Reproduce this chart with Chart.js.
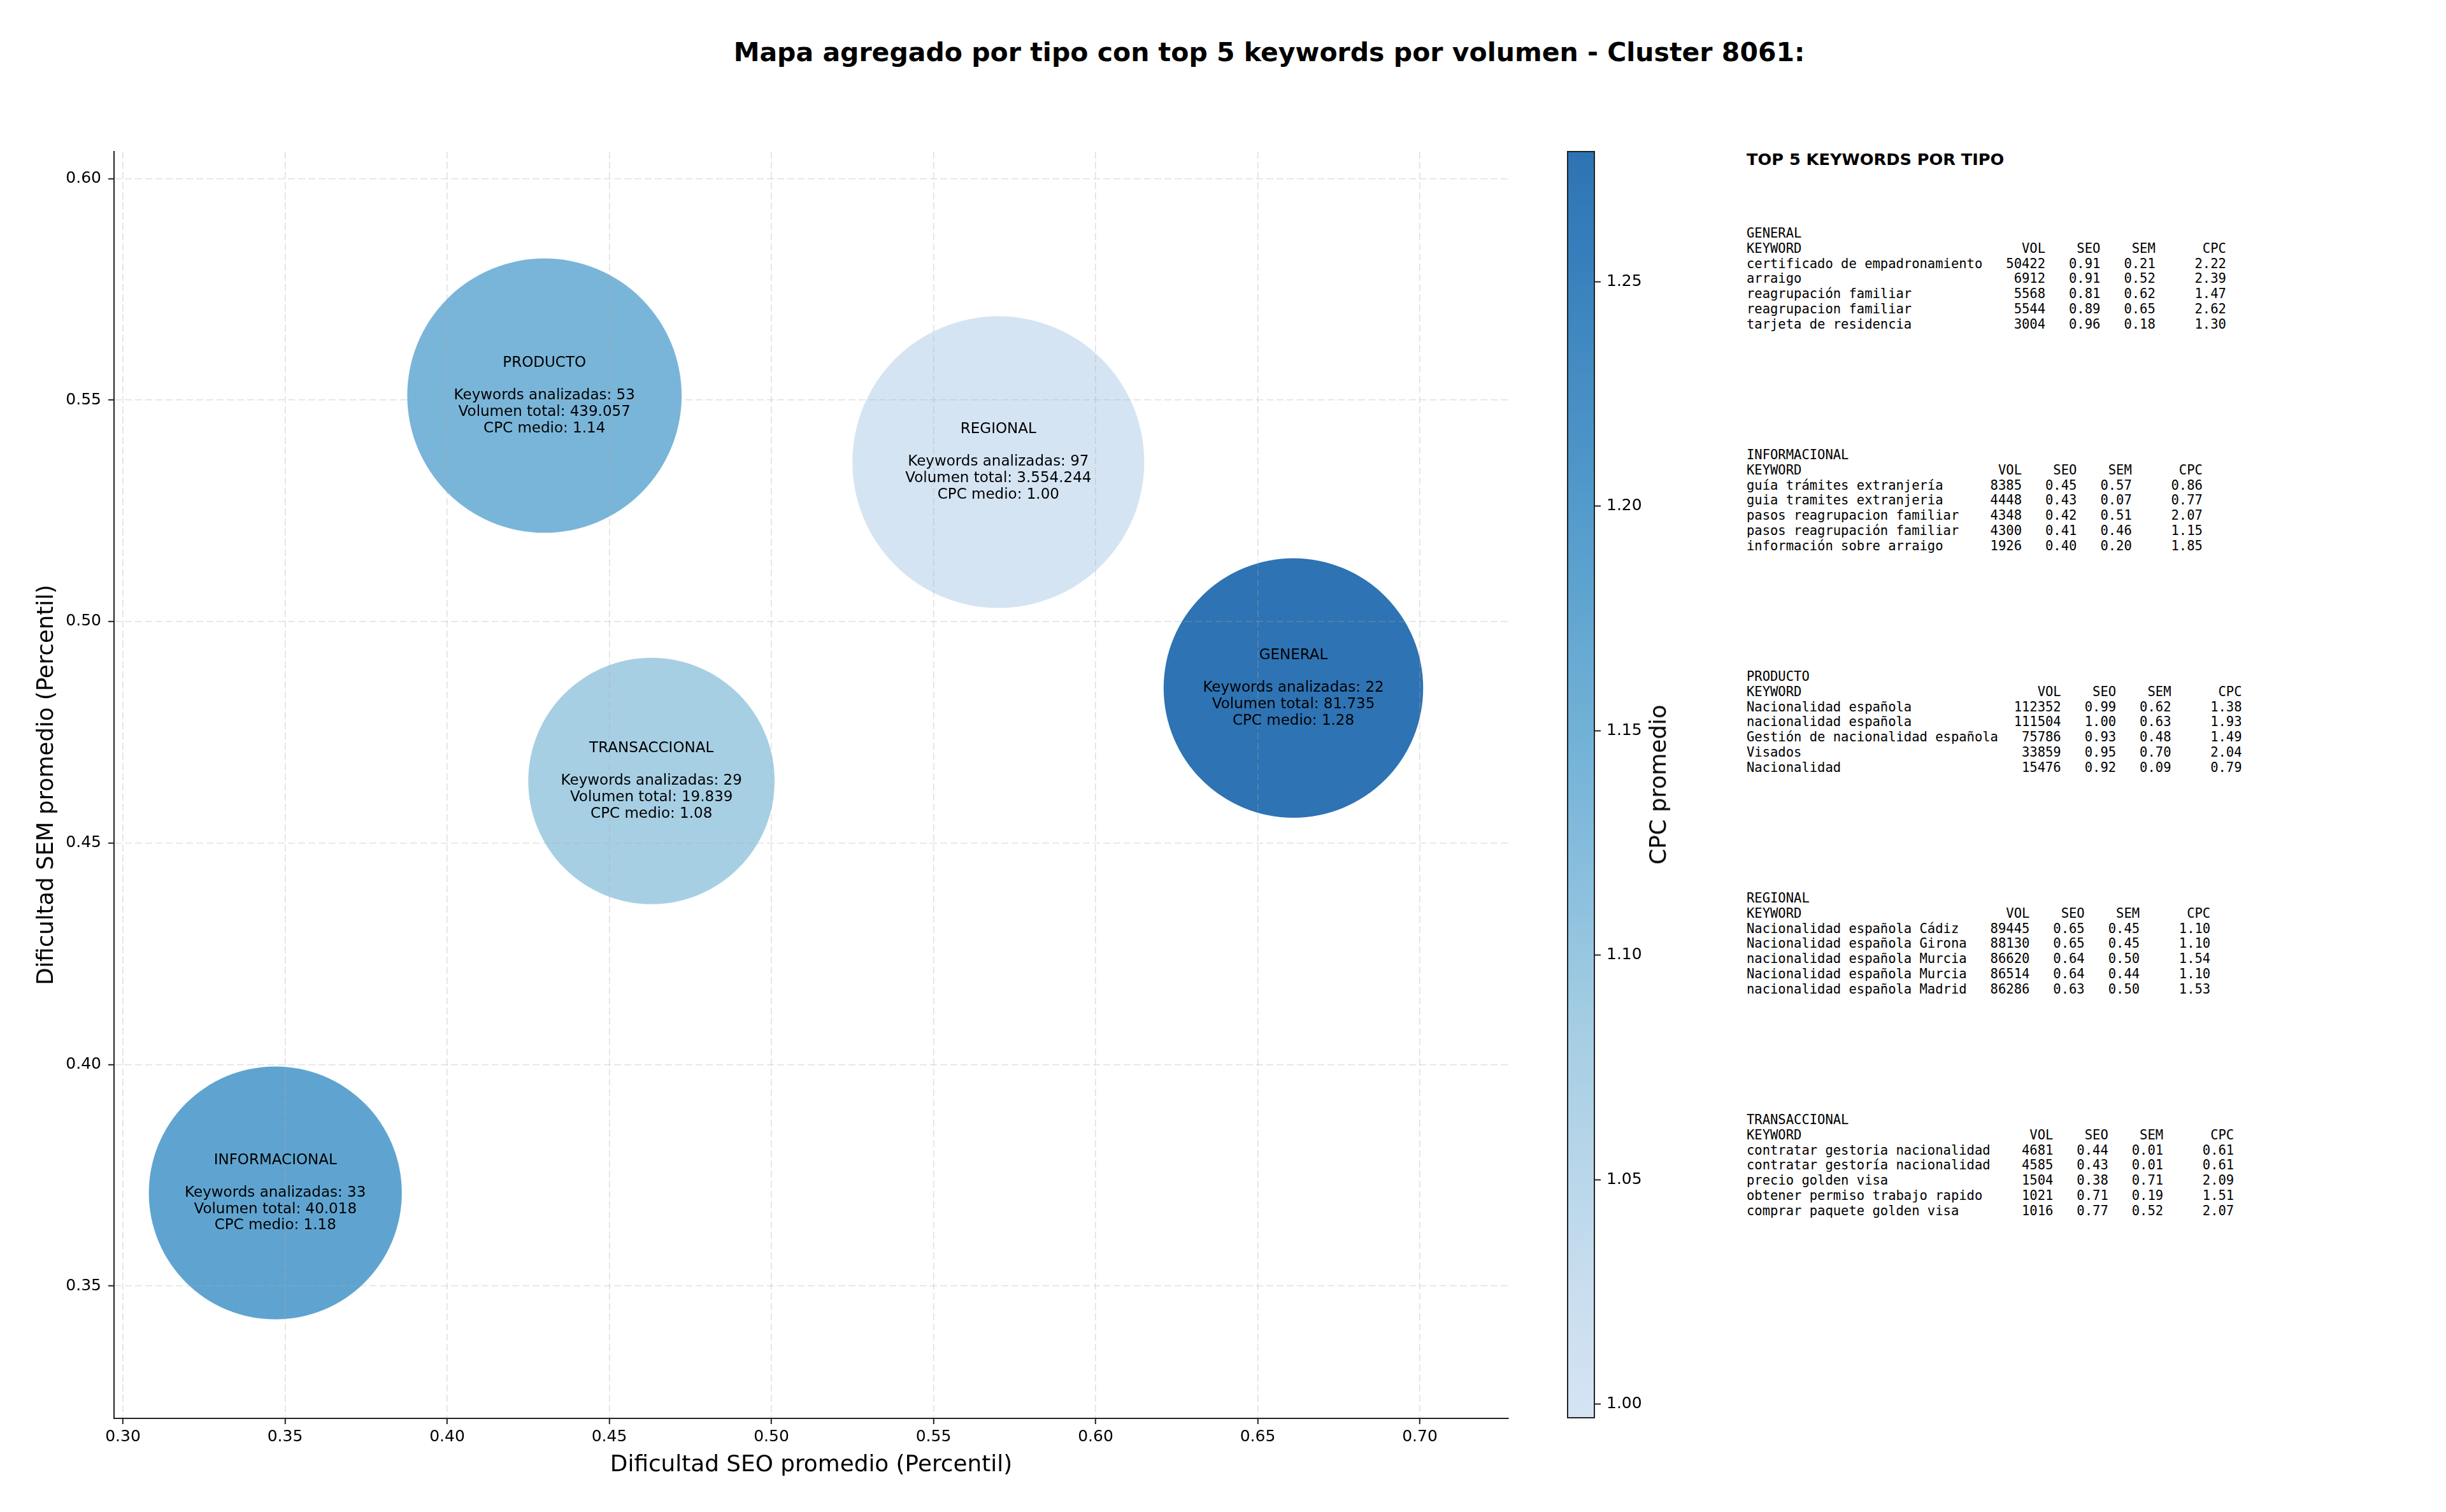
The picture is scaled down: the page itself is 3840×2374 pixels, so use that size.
<!DOCTYPE html>
<html>
<head>
<meta charset="utf-8">
<script src="https://cdn.jsdelivr.net/npm/chart.js@4.4.1/dist/chart.umd.min.js"></script>
<style>
  html, body { margin: 0; padding: 0; background: #fff; }
  #page { position: relative; width: 3840px; height: 2374px; overflow: hidden; font-family: "DejaVu Sans", sans-serif; color: #000; }
  #title { position: absolute; left: 0; width: 3985px; top: 58px; line-height: 48px; text-align: center; font-weight: bold; font-size: 41px; white-space: nowrap; }
  #c-main { position: absolute; left: 0; top: 0; }
  #c-bar { position: absolute; left: 2400px; top: 0; }
  #cb-label { position: absolute; left: 2603px; top: 1232px; transform: translate(-50%, -50%) rotate(-90deg); font-size: 35.5px; line-height: 42px; white-space: nowrap; }
  #top-head { position: absolute; left: 2742px; top: 235px; font-weight: bold; font-size: 25.6px; line-height: 30px; white-space: nowrap; }
  .kw { position: absolute; left: 2742px; margin: 0; font-family: "DejaVu Sans Mono", monospace; font-size: 20.5px; line-height: 23.8px; }
</style>
</head>
<body>
<div id="page">
  <div id="title">Mapa agregado por tipo con top 5 keywords por volumen - Cluster 8061:</div>
  <canvas id="c-main" width="2440" height="2374" style="width:2440px;height:2374px"></canvas>
  <canvas id="c-bar" width="300" height="2374" style="width:300px;height:2374px"></canvas>
  <div id="cb-label">CPC promedio</div>
  <div id="top-head">TOP 5 KEYWORDS POR TIPO</div>
  <div id="kw-panel"></div>
</div>
<script>
// ── datos agregados por tipo ────────────────────────────────────────────────
const TIPOS = ['GENERAL', 'INFORMACIONAL', 'PRODUCTO', 'REGIONAL', 'TRANSACCIONAL'];
const SEO_MEDIO = [0.661, 0.347, 0.430, 0.570, 0.463];
const SEM_MEDIO = [0.485, 0.371, 0.551, 0.536, 0.464];
const KW_ANALIZADAS = [22, 33, 53, 97, 29];
const VOL_TOTAL = [81735, 40018, 439057, 3554244, 19839];
const CPC_MEDIO = [1.279, 1.18, 1.14, 0.997, 1.08];

const X_TICKS = [0.30, 0.35, 0.40, 0.45, 0.50, 0.55, 0.60, 0.65, 0.70];
const Y_TICKS = [0.35, 0.40, 0.45, 0.50, 0.55, 0.60];
const CB_TICKS = [1.00, 1.05, 1.10, 1.15, 1.20, 1.25];

// ── top 5 keywords: [keyword, vol, seo, sem, cpc] ───────────────────────────
const TOP_GENERAL = [
  ['certificado de empadronamiento', 50422, 0.91, 0.21, 2.22],
  ['arraigo', 6912, 0.91, 0.52, 2.39],
  ['reagrupación familiar', 5568, 0.81, 0.62, 1.47],
  ['reagrupacion familiar', 5544, 0.89, 0.65, 2.62],
  ['tarjeta de residencia', 3004, 0.96, 0.18, 1.30],
];
const TOP_INFORMACIONAL = [
  ['guía trámites extranjería', 8385, 0.45, 0.57, 0.86],
  ['guia tramites extranjeria', 4448, 0.43, 0.07, 0.77],
  ['pasos reagrupacion familiar', 4348, 0.42, 0.51, 2.07],
  ['pasos reagrupación familiar', 4300, 0.41, 0.46, 1.15],
  ['información sobre arraigo', 1926, 0.40, 0.20, 1.85],
];
const TOP_PRODUCTO = [
  ['Nacionalidad española', 112352, 0.99, 0.62, 1.38],
  ['nacionalidad española', 111504, 1.00, 0.63, 1.93],
  ['Gestión de nacionalidad española', 75786, 0.93, 0.48, 1.49],
  ['Visados', 33859, 0.95, 0.70, 2.04],
  ['Nacionalidad', 15476, 0.92, 0.09, 0.79],
];
const TOP_REGIONAL = [
  ['Nacionalidad española Cádiz', 89445, 0.65, 0.45, 1.10],
  ['Nacionalidad española Girona', 88130, 0.65, 0.45, 1.10],
  ['nacionalidad española Murcia', 86620, 0.64, 0.50, 1.54],
  ['Nacionalidad española Murcia', 86514, 0.64, 0.44, 1.10],
  ['nacionalidad española Madrid', 86286, 0.63, 0.50, 1.53],
];
const TOP_TRANSACCIONAL = [
  ['contratar gestoria nacionalidad', 4681, 0.44, 0.01, 0.61],
  ['contratar gestoría nacionalidad', 4585, 0.43, 0.01, 0.61],
  ['precio golden visa', 1504, 0.38, 0.71, 2.09],
  ['obtener permiso trabajo rapido', 1021, 0.71, 0.19, 1.51],
  ['comprar paquete golden visa', 1016, 0.77, 0.52, 2.07],
];
const TOP_GROUPS = [TOP_GENERAL, TOP_INFORMACIONAL, TOP_PRODUCTO, TOP_REGIONAL, TOP_TRANSACCIONAL];

// ── helpers ─────────────────────────────────────────────────────────────────
const FONT = '"DejaVu Sans", sans-serif';
const INK = '#222';
const BLUES = ['#f7fbff','#deebf7','#c6dbef','#9ecae1','#6baed6','#4292c6','#2171b5','#08519c','#08306b'];
const CPC_MIN = Math.min(...CPC_MEDIO), CPC_MAX = Math.max(...CPC_MEDIO);

function hexRgb(h) { return [1, 3, 5].map(i => parseInt(h.substr(i, 2), 16)); }
function blues(t, alpha) {
  const p = Math.max(0, Math.min(1, t)) * 8;
  const i = Math.min(7, Math.floor(p)), f = p - i;
  const a = hexRgb(BLUES[i]), b = hexRgb(BLUES[i + 1]);
  const c = a.map((v, k) => Math.round(v + (b[k] - v) * f));
  return 'rgba(' + c.join(',') + ',' + alpha + ')';
}
// mapa truncado (0.2 - 0.8 de Blues), alpha 0.9
function cpcColor(v) { return blues(0.2 + 0.6 * (v - CPC_MIN) / (CPC_MAX - CPC_MIN), 0.9); }
function bubbleRadius(vol) { return Math.sqrt(8681 + 6682 * Math.log10(vol)); }
function miles(n) { return String(n).replace(/\B(?=(\d{3})+(?!\d))/g, '.'); }
function fixedTicks(list) { return scale => { scale.ticks = list.map(v => ({ value: v })); }; }

// las burbujas no deben reservar margen extra en el layout
Chart.BubbleController.prototype.getMaxOverflow = () => 0;

// ── panel de keywords ───────────────────────────────────────────────────────
const panel = document.getElementById('kw-panel');
TOP_GROUPS.forEach((rows, g) => {
  const w = Math.max(...rows.map(r => r[0].length));
  const lines = [TIPOS[g],
    'KEYWORD'.padEnd(w) + 'VOL'.padStart(8) + 'SEO'.padStart(7) + 'SEM'.padStart(7) + 'CPC'.padStart(9)];
  rows.forEach(r => lines.push(r[0].padEnd(w) + String(r[1]).padStart(8) +
    r[2].toFixed(2).padStart(7) + r[3].toFixed(2).padStart(7) + r[4].toFixed(2).padStart(9)));
  const pre = document.createElement('pre');
  pre.className = 'kw';
  pre.style.top = (355 + g * 348) + 'px';
  pre.textContent = lines.join('\n');
  panel.appendChild(pre);
});

// ── gráfico principal ───────────────────────────────────────────────────────
const bubbleLabels = {
  id: 'bubbleLabels',
  afterDraw(chart) {
    const { ctx, scales: { x, y } } = chart;
    ctx.save();
    ctx.font = '23px ' + FONT;
    ctx.fillStyle = '#000';
    ctx.textAlign = 'center';
    ctx.textBaseline = 'middle';
    TIPOS.forEach((t, i) => {
      const cx = x.getPixelForValue(SEO_MEDIO[i]), cy = y.getPixelForValue(SEM_MEDIO[i]);
      const lines = [t, '', 'Keywords analizadas: ' + KW_ANALIZADAS[i],
        'Volumen total: ' + miles(VOL_TOTAL[i]), 'CPC medio: ' + CPC_MEDIO[i].toFixed(2)];
      lines.forEach((l, k) => ctx.fillText(l, cx, cy + (k - 2) * 25.7));
    });
    ctx.restore();
  }
};

const axisCommon = {
  type: 'linear',
  grid: { color: 'rgba(170,170,170,0.35)', lineWidth: 1.6, z: 1, tickColor: INK, tickWidth: 2, tickLength: 9 },
  border: { display: true, color: INK, width: 2, dash: [11, 5], z: 1 },
  ticks: { color: '#000', font: { family: FONT, size: 25 }, callback: v => v.toFixed(2) },
};

new Chart(document.getElementById('c-main'), {
  type: 'bubble',
  data: {
    datasets: [{
      data: TIPOS.map((t, i) => ({ x: SEO_MEDIO[i], y: SEM_MEDIO[i], r: bubbleRadius(VOL_TOTAL[i]) })),
      backgroundColor: CPC_MEDIO.map(cpcColor),
      borderWidth: 0,
      hoverRadius: 0,
    }]
  },
  options: {
    responsive: false, animation: false, devicePixelRatio: 1, events: [],
    layout: { padding: { left: 0, top: 238, right: 72, bottom: 0 } },
    plugins: { legend: { display: false }, tooltip: { enabled: false } },
    scales: {
      x: {
        ...axisCommon, min: 0.29725, max: 0.7273,
        afterBuildTicks: fixedTicks(X_TICKS),
        afterFit: s => { s.height = 147; },
        ticks: { ...axisCommon.ticks, padding: 5, maxRotation: 0 },
        title: { display: true, text: 'Dificultad SEO promedio (Percentil)', color: '#000',
                 font: { family: FONT, size: 35.8 }, padding: { top: 0, bottom: 52 } },
      },
      y: {
        ...axisCommon, min: 0.3201, max: 0.6061,
        afterBuildTicks: fixedTicks(Y_TICKS),
        afterFit: s => { s.width = 179; },
        ticks: { ...axisCommon.ticks, padding: 11 },
        title: { display: true, text: 'Dificultad SEM promedio (Percentil)', color: '#000',
                 font: { family: FONT, size: 35.5 }, padding: { top: 52, bottom: 0 } },
      },
    },
  },
  plugins: [bubbleLabels],
});

// ── barra de color (CPC) ────────────────────────────────────────────────────
const colorbarFill = {
  id: 'colorbarFill',
  beforeDatasetsDraw(chart) {
    const { ctx, chartArea: a, scales: { y } } = chart;
    const grad = ctx.createLinearGradient(0, a.bottom, 0, a.top);
    for (let k = 0; k <= 40; k++) grad.addColorStop(k / 40, cpcColor(CPC_MIN + (CPC_MAX - CPC_MIN) * k / 40));
    ctx.save();
    ctx.fillStyle = grad;
    ctx.fillRect(a.left, y.getPixelForValue(CPC_MAX), a.right - a.left, y.getPixelForValue(CPC_MIN) - y.getPixelForValue(CPC_MAX));
    ctx.restore();
  },
  afterDraw(chart) {
    const { ctx, chartArea: a } = chart;
    ctx.save();
    ctx.strokeStyle = INK;
    ctx.lineWidth = 2;
    ctx.strokeRect(a.left, a.top, a.right - a.left, a.bottom - a.top);
    ctx.restore();
  }
};

new Chart(document.getElementById('c-bar'), {
  type: 'scatter',
  data: { datasets: [{ data: [] }] },
  options: {
    responsive: false, animation: false, devicePixelRatio: 1, events: [],
    layout: { padding: { left: 61, top: 238, right: 97, bottom: 148 } },
    plugins: { legend: { display: false }, tooltip: { enabled: false } },
    scales: {
      x: { display: false, min: 0, max: 1 },
      y: {
        type: 'linear', position: 'right', min: CPC_MIN, max: CPC_MAX,
        afterBuildTicks: fixedTicks(CB_TICKS),
        afterFit: s => { s.width = 100; },
        grid: { drawOnChartArea: false, tickColor: INK, tickWidth: 2, tickLength: 10 },
        border: { display: false },
        ticks: { color: '#000', padding: 9, font: { family: FONT, size: 25 }, callback: v => v.toFixed(2) },
      },
    },
  },
  plugins: [colorbarFill],
});
</script>
</body>
</html>
